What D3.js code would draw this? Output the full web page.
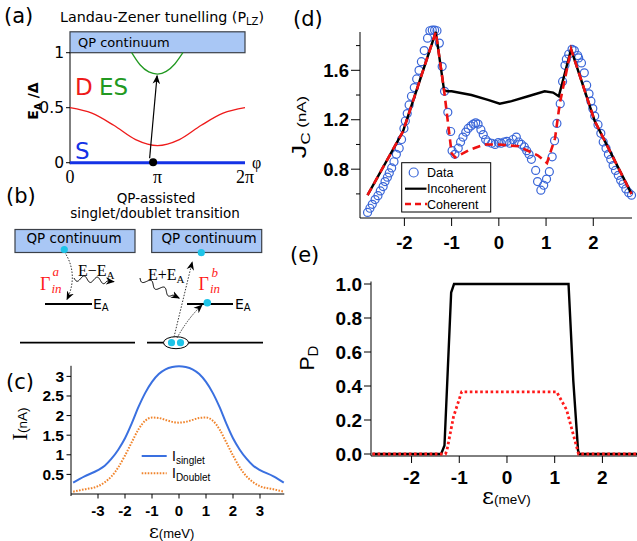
<!DOCTYPE html>
<html><head><meta charset="utf-8">
<script src="https://cdn.jsdelivr.net/npm/d3@7"></script>
<style>body{margin:0;background:#fff}svg{display:block}</style>
</head><body>
<svg id="fig" width="637" height="541"></svg>
<script>
// ================= DATA =================
// (a) Andreev levels vs phase (phase in units of pi, energy in units of Delta)
const phiD  = [0, 0.25, 0.5, 0.75, 1, 1.25, 1.5, 1.75, 2];
const eD    = [0.5, 0.45, 0.34, 0.21, 0.155, 0.21, 0.34, 0.45, 0.5];
const phiES = [0.705, 0.8, 0.9, 1.0, 1.1, 1.2, 1.29];
const eES   = [1.0, 0.89, 0.825, 0.806, 0.83, 0.9, 1.0];
const phiS  = [0, 2];
const eS    = [0, 0];
const aTickVals = [0, 0.5, 1];
const aTickLabels = ["0", "0.5", "1"];
const aPhiVals = [0, 1, 2];
const aPhiLabels = ["0", "π", "2π"];

// (c) currents vs epsilon
const epsC     = [-3.92, -3.5, -3, -2.75, -2.5, -2.25, -2, -1.75, -1.5, -1.25, -1, -0.75, -0.5, -0.25, 0, 0.25, 0.5, 0.75, 1, 1.25, 1.5, 1.75, 2, 2.25, 2.5, 2.75, 3, 3.5, 3.88];
const iSinglet = [0.29, 0.45, 0.61, 0.72, 0.9, 1.13, 1.42, 1.8, 2.22, 2.58, 2.86, 3.06, 3.18, 3.24, 3.26, 3.24, 3.18, 3.06, 2.86, 2.58, 2.22, 1.8, 1.42, 1.13, 0.9, 0.72, 0.61, 0.45, 0.29];
const iDoublet = [0.06, 0.12, 0.2, 0.3, 0.45, 0.68, 0.98, 1.32, 1.65, 1.87, 1.95, 1.94, 1.89, 1.84, 1.82, 1.84, 1.89, 1.94, 1.95, 1.87, 1.65, 1.32, 0.98, 0.68, 0.45, 0.3, 0.2, 0.12, 0.06];
const cTicksX = [-3, -2, -1, 0, 1, 2, 3];
const cTicksY = [0.5, 1, 1.5, 2, 2.5, 3];
const cTickYLabels = ["0.5", "1", "1.5", "2", "2.5", "3"];

// (d) critical current
const epsData = [-2.78,-2.73,-2.68,-2.62,-2.56,-2.51,-2.45,-2.41,-2.36,-2.32,-2.27,-2.22,-2.17,-2.11,-2.06,-2.01,-1.98,-1.94,-1.90,-1.85,-1.79,-1.74,-1.69,-1.64,-1.58,-1.51,-1.46,-1.41,-1.36,-1.31,-1.26,-1.20,-1.15,-1.08,-1.02,-0.99,-0.93,-0.86,-0.81,-0.76,-0.70,-0.65,-0.59,-0.54,-0.49,-0.44,-0.38,-0.33,-0.28,-0.23,-0.15,-0.08,-0.01,0.05,0.11,0.17,0.23,0.30,0.37,0.42,0.48,0.54,0.59,0.64,0.69,0.78,0.82,0.89,0.95,1.01,1.07,1.13,1.18,1.23,1.30,1.35,1.40,1.43,1.48,1.55,1.60,1.67,1.69,1.75,1.81,1.86,1.91,1.95,1.99,2.03,2.10,2.16,2.21,2.27,2.32,2.37,2.42,2.47,2.53,2.58,2.63,2.69,2.75,2.81];
const jData   = [0.45,0.484,0.516,0.554,0.586,0.624,0.659,0.70,0.735,0.77,0.81,0.86,0.92,0.97,1.04,1.13,1.19,1.25,1.32,1.39,1.46,1.53,1.60,1.67,1.76,1.86,1.92,1.925,1.925,1.92,1.82,1.63,1.43,1.26,1.105,0.95,0.92,0.97,1.02,1.06,1.10,1.13,1.15,1.165,1.175,1.165,1.12,1.08,1.04,1.02,1.01,1.00,1.015,1.01,1.02,1.025,1.01,1.04,1.06,1.02,1.0,0.98,0.95,0.92,0.88,0.79,0.70,0.63,0.67,0.72,0.78,0.90,1.03,1.17,1.33,1.51,1.64,1.69,1.73,1.77,1.76,1.72,1.70,1.66,1.58,1.48,1.41,1.35,1.29,1.23,1.16,1.09,1.02,0.97,0.92,0.88,0.83,0.79,0.75,0.71,0.68,0.64,0.61,0.59];
const epsInc = [-2.78,-2.03,-1.335,-1.16,-1.09,-1.0,-0.58,-0.23,0.02,0.27,0.62,0.97,1.15,1.27,1.53,2.03,2.81];
const jInc   = [0.59,1.105,1.91,1.44,1.43,1.43,1.40,1.36,1.33,1.35,1.39,1.43,1.42,1.39,1.77,1.19,0.6];
const epsCoh = [-2.78,-2.03,-1.335,-1.16,-1.0,-0.93,-0.6,-0.3,0.0,0.42,0.83,1.02,1.19,1.29,1.53,2.03,2.81];
const jCoh   = [0.59,1.105,1.91,1.44,0.93,0.895,0.96,1.0,1.0,0.985,0.91,0.85,1.05,1.33,1.77,1.19,0.6];
const dTicksX = [-2, -1, 0, 1, 2];
const dTicksY = [0.8, 1.2, 1.6];
const dTickYLabels = ["0.8", "1.2", "1.6"];
const dMinorY = [0.6, 1.0, 1.4, 1.8];
const dLegend = ["Data", "Incoherent", "Coherent"];

// (e) doublet probability
const epsPInc = [-2.82,-1.38,-1.31,-1.24,-1.17,-1.11,1.29,1.39,1.49,1.52,2.73];
const pInc    = [0,0,0.05,0.5,0.95,1.0,1.0,0.43,0.02,0,0];
const epsPCoh = [-2.82,-1.29,-1.26,-1.12,-0.95,1.04,1.25,1.50,2.73];
const pCoh    = [0,0,0.02,0.22,0.366,0.366,0.26,0,0];
const eTicksX = [-2, -1, 0, 1, 2];
const eTicksY = [0, 0.2, 0.4, 0.6, 0.8, 1.0];
const eTickYLabels = ["0.0", "0.2", "0.4", "0.6", "0.8", "1.0"];

// ================= DRAWING =================
const svg = d3.select("#fig");
const SANS = "'DejaVu Sans', Verdana, sans-serif";
const HELV = "'Liberation Sans', Arial, sans-serif";
const SERIF = "'Liberation Serif', 'Times New Roman', serif";
const QPFILL = "#a9c7f5", QPSTROKE = "#3b4048", CYAN = "#1ec4e8";
const RED = "#ff1a1a", BLUE = "#3a66d8";

function txt(g, x, y, s, o = {}) {
  const t = g.append("text").attr("x", x).attr("y", y).text(s)
    .attr("font-family", o.ff || SANS).attr("font-size", o.fs || 13)
    .attr("fill", o.fill || "#000");
  if (o.anchor) t.attr("text-anchor", o.anchor);
  if (o.fw) t.attr("font-weight", o.fw);
  if (o.fst) t.attr("font-style", o.fst);
  if (o.db) t.attr("dominant-baseline", o.db);
  return t;
}
function hline(g, x1, x2, y, w = 1, c = "#000") {
  return g.append("line").attr("x1", x1).attr("x2", x2).attr("y1", y).attr("y2", y).attr("stroke", c).attr("stroke-width", w);
}
function vline(g, x, y1, y2, w = 1, c = "#000") {
  return g.append("line").attr("x1", x).attr("x2", x).attr("y1", y1).attr("y2", y2).attr("stroke", c).attr("stroke-width", w);
}

const defs = svg.append("defs");
function marker(id, size) {
  defs.append("marker").attr("id", id).attr("viewBox", "0 0 10 10")
    .attr("refX", 9).attr("refY", 5).attr("markerWidth", size).attr("markerHeight", size)
    .attr("markerUnits", "userSpaceOnUse").attr("orient", "auto")
    .append("path").attr("d", "M0,0.8 L10,5 L0,9.2 L3,5 Z").attr("fill", "#000");
}
marker("ahA", 9); marker("ahB", 9);

// ---------- (a) ----------
{
  const g = svg.append("g");
  const xa = d3.scaleLinear().domain([0, 2]).range([70, 245]);
  const ya = d3.scaleLinear().domain([0, 1]).range([162.7, 52.7]);
  txt(g, 4, 23, "(a)", {fs: 21});
  const tt = txt(g, 60, 22, "Landau-Zener tunelling (P", {fs: 14.3});
  tt.append("tspan").attr("font-size", 10).attr("dy", 3).text("LZ");
  tt.append("tspan").attr("dy", -3).text(")");
  g.append("rect").attr("x", xa(0)).attr("y", ya(1.19)).attr("width", xa(2) - xa(0))
    .attr("height", ya(1) - ya(1.19)).attr("fill", QPFILL).attr("stroke", QPSTROKE).attr("stroke-width", 1.2);
  txt(g, 78, ya(1.095), "QP continuum", {fs: 13, db: "central"});
  vline(g, xa(0), ya(1), ya(0) + 1.5);
  aTickVals.forEach((v, i) => {
    hline(g, xa(0) - 4, xa(0), ya(v));
    txt(g, xa(0) - 6, ya(v) + 5.5, aTickLabels[i], {fs: 15.5, anchor: "end"});
  });
  aPhiVals.forEach((v, i) => txt(g, xa(v), 183, aPhiLabels[i], {ff: SERIF, fs: 18, anchor: "middle"}));
  txt(g, 252, 168, "φ", {ff: SERIF, fs: 16});
  const la = d3.line().x(d => xa(d[0])).y(d => ya(d[1])).curve(d3.curveMonotoneX);
  g.append("path").datum(d3.zip(phiD, eD)).attr("d", la).attr("fill", "none").attr("stroke", "#ee1a1a").attr("stroke-width", 1.3);
  g.append("path").datum(d3.zip(phiES, eES)).attr("d", la).attr("fill", "none").attr("stroke", "#229922").attr("stroke-width", 1.3);
  g.append("path").datum(d3.zip(phiS, eS)).attr("d", la).attr("fill", "none").attr("stroke", "#1432e6").attr("stroke-width", 3);
  g.append("line").attr("x1", xa(0.91)).attr("y1", ya(0.04)).attr("x2", xa(0.995)).attr("y2", ya(0.79))
    .attr("stroke", "#000").attr("stroke-width", 1.2).attr("marker-end", "url(#ahA)");
  g.append("circle").attr("cx", xa(0.95)).attr("cy", ya(0.005)).attr("r", 4).attr("fill", "#000");
  txt(g, 75, 95, "D", {fs: 23, fill: "#ee1a1a"});
  txt(g, 99, 95, "ES", {fs: 23, fill: "#229922"});
  txt(g, 75, 159, "S", {fs: 23, fill: "#1432e6"});
  const yl = g.append("text").attr("transform", "translate(38,101) rotate(-90)").attr("text-anchor", "middle")
    .attr("font-family", SANS).attr("font-size", 14).attr("font-weight", "bold").text("E");
  yl.append("tspan").attr("font-size", 9).attr("dy", 3).text("A");
  yl.append("tspan").attr("dy", -3).text(" /Δ");
}

// ---------- (b) ----------
{
  const g = svg.append("g");
  txt(g, 6, 203, "(b)", {fs: 21});
  txt(g, 156, 203, "QP-assisted", {fs: 13.5, anchor: "middle"});
  txt(g, 155, 218, "singlet/doublet transition", {fs: 13.5, anchor: "middle"});
  g.append("rect").attr("x", 15).attr("y", 229.5).attr("width", 120).attr("height", 23).attr("fill", QPFILL).attr("stroke", QPSTROKE).attr("stroke-width", 1.2);
  g.append("rect").attr("x", 151.7).attr("y", 229.5).attr("width", 110).attr("height", 23).attr("fill", QPFILL).attr("stroke", QPSTROKE).attr("stroke-width", 1.2);
  txt(g, 74, 243, "QP continuum", {fs: 13.5, anchor: "middle"});
  txt(g, 209, 243, "QP continuum", {fs: 13.5, anchor: "middle"});
  // levels
  hline(g, 45, 92, 304, 1.8);
  hline(g, 187, 233, 304, 1.8);
  hline(g, 20, 135, 342.7, 1.8);
  hline(g, 147, 263, 342.7, 1.8);
  const ea1 = txt(g, 93, 309, "E", {fs: 14}); ea1.append("tspan").attr("font-size", 10).attr("dy", 2).text("A");
  const ea2 = txt(g, 235, 309, "E", {fs: 14}); ea2.append("tspan").attr("font-size", 10).attr("dy", 2).text("A");
  // left dotted arrow
  g.append("path").attr("d", "M64.5,252 C75,268 74,285 67,299.5").attr("fill", "none").attr("stroke", "#333")
    .attr("stroke-width", 1).attr("stroke-dasharray", "1.5,1.5").attr("marker-end", "url(#ahB)");
  g.append("circle").attr("cx", 64.3).attr("cy", 249.5).attr("r", 3.6).attr("fill", CYAN);
  // wavy arrows
  function wave(x0, y0, x1, y1, per, amp) {
    const dx = x1 - x0, dy = y1 - y0, L = Math.hypot(dx, dy), ux = dx / L, uy = dy / L;
    const pts = [];
    for (let i = 0; i <= 60; i++) {
      const t = i / 60, s = amp * Math.sin(2 * Math.PI * per * t);
      pts.push([x0 + dx * t - uy * s, y0 + dy * t + ux * s]);
    }
    pts.push([x1 + ux * 7, y1 + uy * 7]);
    return d3.line()(pts);
  }
  g.append("path").attr("d", wave(74, 278, 107, 281, 2.5, 3)).attr("fill", "none").attr("stroke", "#000")
    .attr("stroke-width", 1).attr("marker-end", "url(#ahB)");
  g.append("path").attr("d", wave(140, 278, 173, 295, 2.5, 3)).attr("fill", "none").attr("stroke", "#000")
    .attr("stroke-width", 1).attr("marker-end", "url(#ahB)");
  const t1 = txt(g, 78, 276, "E−E", {ff: SERIF, fs: 16}); t1.append("tspan").attr("font-size", 11).attr("dy", 3).text("A");
  const t2 = txt(g, 148, 280, "E+E", {ff: SERIF, fs: 16}); t2.append("tspan").attr("font-size", 11).attr("dy", 3).text("A");
  // Gamma labels
  txt(g, 40, 290, "Γ", {ff: SERIF, fs: 18, fill: RED});
  txt(g, 52.5, 276, "a", {ff: SERIF, fs: 13, fill: RED, fst: "italic"});
  txt(g, 51.5, 293, "in", {ff: SERIF, fs: 13, fill: RED, fst: "italic"});
  txt(g, 198.5, 290, "Γ", {ff: SERIF, fs: 18, fill: RED});
  txt(g, 211.5, 277, "b", {ff: SERIF, fs: 13, fill: RED, fst: "italic"});
  txt(g, 210, 293, "in", {ff: SERIF, fs: 13, fill: RED, fst: "italic"});
  // right side pair
  g.append("ellipse").attr("cx", 176).attr("cy", 342.7).attr("rx", 12.5).attr("ry", 6).attr("fill", "#fff").attr("stroke", "#000").attr("stroke-width", 1);
  g.append("path").attr("d", "M174,337 L192.2,262").attr("fill", "none").attr("stroke", "#333")
    .attr("stroke-width", 1).attr("stroke-dasharray", "1.5,1.5").attr("marker-end", "url(#ahB)");
  g.append("path").attr("d", "M177,338 Q188,318 202,305").attr("fill", "none").attr("stroke", "#333")
    .attr("stroke-width", 1).attr("stroke-dasharray", "1.5,1.2").attr("marker-end", "url(#ahB)");
  g.append("circle").attr("cx", 171.5).attr("cy", 342.7).attr("r", 3.6).attr("fill", CYAN);
  g.append("circle").attr("cx", 180.5).attr("cy", 342.7).attr("r", 3.6).attr("fill", CYAN);
  g.append("circle").attr("cx", 207.3).attr("cy", 302.8).attr("r", 3.8).attr("fill", CYAN);
  g.append("circle").attr("cx", 201.3).attr("cy", 252.7).attr("r", 3.6).attr("fill", CYAN);
}

// ---------- (c) ----------
{
  const g = svg.append("g");
  const xc = d3.scaleLinear().domain([-4, 3.9]).range([71, 284.3]);
  const yc = d3.scaleLinear().domain([0, 3.27]).range([494, 365.8]);
  txt(g, 6, 389, "(c)", {fs: 21});
  vline(g, xc(-4), yc(3.27), yc(0) + 2);
  hline(g, xc(-4), xc(3.9), yc(0));
  cTicksY.forEach((v, i) => {
    hline(g, xc(-4) - 4.5, xc(-4), yc(v));
    txt(g, xc(-4) - 7, yc(v) + 5.5, cTickYLabels[i], {ff: HELV, fs: 15.5, fw: "bold", anchor: "end"});
  });
  cTicksX.forEach(v => {
    vline(g, xc(v), yc(0), yc(0) + 4.5);
    txt(g, xc(v), 516, String(v), {ff: HELV, fs: 15, fw: "bold", anchor: "middle"});
  });
  const xl = txt(g, 149, 538, "ε", {ff: "'DejaVu Serif', serif", fs: 19});
  xl.append("tspan").attr("font-family", HELV).attr("font-size", 13).text("(meV)");
  const yl = g.append("text").attr("transform", "translate(27,424) rotate(-90)").attr("text-anchor", "middle");
  yl.append("tspan").attr("font-family", SERIF).attr("font-size", 22).text("I");
  yl.append("tspan").attr("font-family", HELV).attr("font-size", 13.5).attr("dy", 0).text("(nA)");
  const lc = d3.line().x(d => xc(d[0])).y(d => yc(d[1])).curve(d3.curveMonotoneX);
  g.append("path").datum(d3.zip(epsC, iDoublet)).attr("d", lc).attr("fill", "none").attr("stroke", "#f0842c").attr("stroke-width", 2).attr("stroke-dasharray", "1.6,1.4");
  g.append("path").datum(d3.zip(epsC, iSinglet)).attr("d", lc).attr("fill", "none").attr("stroke", "#3a70e0").attr("stroke-width", 2);
  hline(g, 141.7, 166.7, 456, 2, "#3a70e0");
  g.append("line").attr("x1", 141.7).attr("x2", 166.7).attr("y1", 473.3).attr("y2", 473.3).attr("stroke", "#f0842c").attr("stroke-width", 2).attr("stroke-dasharray", "1.6,1.4");
  const l1 = txt(g, 172, 461, "I", {ff: HELV, fs: 14}); l1.append("tspan").attr("font-size", 10).attr("dy", 3).text("singlet");
  const l2 = txt(g, 172, 478, "I", {ff: HELV, fs: 14}); l2.append("tspan").attr("font-size", 10).attr("dy", 3).text("Doublet");
}

// ---------- (d) ----------
{
  const g = svg.append("g");
  const xd = d3.scaleLinear().domain([-2.94, 2.82]).range([360, 632]);
  const yd = d3.scaleLinear().domain([0.405, 1.91]).range([218, 32]);
  txt(g, 293, 26, "(d)", {fs: 21});
  vline(g, xd(-2.94), 32, yd(0.405));
  hline(g, xd(-2.94), xd(2.82), yd(0.405));
  dTicksY.forEach((v, i) => {
    hline(g, xd(-2.94) - 9, xd(-2.94), yd(v));
    txt(g, xd(-2.94) - 11, yd(v) + 6.5, dTickYLabels[i], {ff: HELV, fs: 18.5, fw: "bold", anchor: "end"});
  });
  dMinorY.forEach(v => hline(g, xd(-2.94) - 4, xd(-2.94), yd(v)));
  dTicksX.forEach(v => {
    vline(g, xd(v), yd(0.405), yd(0.405) + 8);
    txt(g, xd(v), 249, String(v), {ff: HELV, fs: 18.5, fw: "bold", anchor: "middle"});
  });
  const yl = g.append("text").attr("transform", "translate(306,127) rotate(-90) scale(1.3,1)").attr("text-anchor", "middle").attr("font-family", HELV);
  yl.append("tspan").attr("font-size", 21).text("J");
  yl.append("tspan").attr("font-size", 13).attr("dy", 4).text("C");
  yl.append("tspan").attr("font-size", 13).attr("dy", -4).text(" (nA)");
  const ld = d3.line().x(d => xd(d[0])).y(d => yd(d[1]));
  g.selectAll("circle.dat").data(d3.zip(epsData, jData)).join("circle").attr("class", "dat")
    .attr("cx", d => xd(d[0])).attr("cy", d => yd(d[1])).attr("r", 4)
    .attr("fill", "none").attr("stroke", BLUE).attr("stroke-width", 1.2);
  g.append("path").datum(d3.zip(epsInc, jInc)).attr("d", ld).attr("fill", "none").attr("stroke", "#000").attr("stroke-width", 2.4);
  g.append("path").datum(d3.zip(epsCoh, jCoh)).attr("d", ld).attr("fill", "none").attr("stroke", "#ee1111").attr("stroke-width", 2.6).attr("stroke-dasharray", "8,5");
  // legend
  g.append("rect").attr("x", 401.7).attr("y", 162.7).attr("width", 89).attr("height", 49.3).attr("fill", "#fff").attr("stroke", "#000").attr("stroke-width", 1);
  g.append("circle").attr("cx", 413.7).attr("cy", 172.5).attr("r", 4.5).attr("fill", "none").attr("stroke", BLUE).attr("stroke-width", 1.2);
  hline(g, 405, 426.5, 188.7, 2.2, "#000");
  g.append("line").attr("x1", 405).attr("x2", 427).attr("y1", 204).attr("y2", 204).attr("stroke", "#ee1111").attr("stroke-width", 2.4).attr("stroke-dasharray", "6,4");
  dLegend.forEach((s, i) => txt(g, 427, [177, 193, 208.5][i], s, {ff: HELV, fs: 12.5}));
}

// ---------- (e) ----------
{
  const g = svg.append("g");
  const xe = d3.scaleLinear().domain([-2.85, 2.725]).range([371, 637]);
  const ye = d3.scaleLinear().domain([0, 1]).range([454, 284]);
  txt(g, 290, 262, "(e)", {fs: 21});
  vline(g, xe(-2.85), 281.5, 456);
  hline(g, xe(-2.85), xe(2.725), 456);
  eTicksY.forEach((v, i) => {
    hline(g, xe(-2.85) - 7, xe(-2.85), ye(v));
    txt(g, xe(-2.85) - 9, ye(v) + 6.5, eTickYLabels[i], {ff: HELV, fs: 19, fw: "bold", anchor: "end"});
  });
  eTicksX.forEach(v => {
    vline(g, xe(v), 456, 463);
    txt(g, xe(v), 484, String(v), {ff: HELV, fs: 19, fw: "bold", anchor: "middle"});
  });
  const xl = txt(g, 482, 504, "ε", {ff: "'DejaVu Serif', serif", fs: 23});
  xl.append("tspan").attr("font-family", HELV).attr("font-size", 13.5).text("(meV)");
  const yl = g.append("text").attr("transform", "translate(314,358) rotate(-90)").attr("text-anchor", "middle").attr("font-family", HELV);
  yl.append("tspan").attr("font-size", 21).text("P");
  yl.append("tspan").attr("font-size", 15).attr("dy", 4).text("D");
  const le = d3.line().x(d => xe(d[0])).y(d => ye(d[1]));
  g.append("path").datum(d3.zip(epsPInc, pInc)).attr("d", le).attr("fill", "none").attr("stroke", "#000").attr("stroke-width", 2.4);
  g.append("path").datum(d3.zip(epsPCoh, pCoh)).attr("d", le).attr("fill", "none").attr("stroke", RED).attr("stroke-width", 2.8).attr("stroke-dasharray", "2.6,2.6");
}
</script>
</body></html>
